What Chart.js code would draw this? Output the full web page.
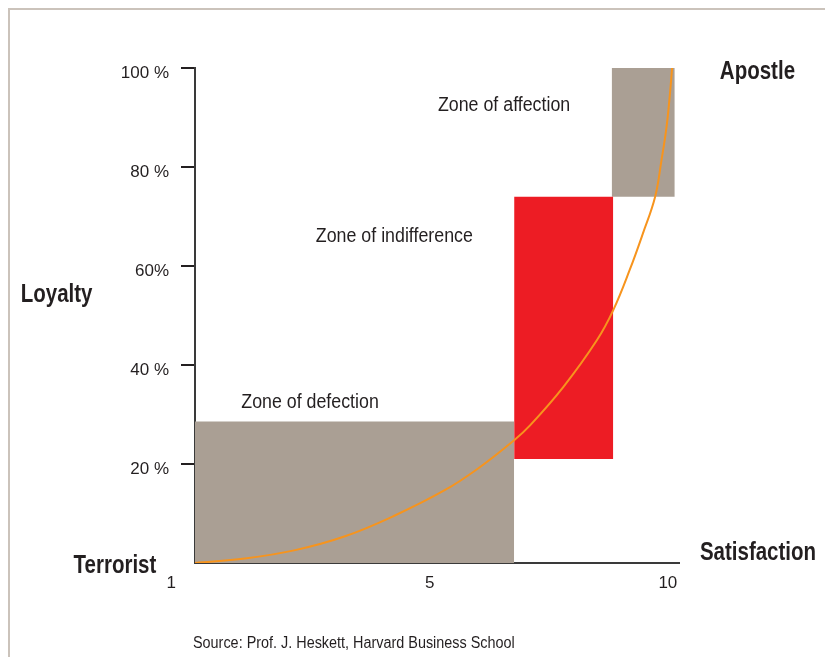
<!DOCTYPE html>
<html>
<head>
<meta charset="utf-8">
<script src="https://cdn.jsdelivr.net/npm/chart.js@4.4.0/dist/chart.umd.min.js"></script>
<style>
  html, body { margin: 0; padding: 0; background: #fff; }
  #wrap { position: relative; width: 825px; height: 657px; overflow: hidden; }
  #frame { position: absolute; left: 8px; top: 8px; width: 830px; height: 660px;
           border-top: 2px solid #cbc3bb; border-left: 2px solid #cbc3bb; pointer-events: none; }
  canvas { position: absolute; left: 0; top: 0; }
</style>
</head>
<body>
<div id="wrap">
  <canvas id="loyaltyChart" width="825" height="657"></canvas>
  <div id="frame"></div>
</div>
<script>
// satisfaction (x) vs loyalty % (y)
const curveX = [1, 1.94, 2.89, 3.83, 4.77, 5.71, 6.34, 7.02, 7.32, 7.95, 8.58, 8.89, 9.20, 9.45, 9.68, 9.80, 9.895, 9.96, 10];
const curveY = [0, 0.9, 2.6, 5.4, 9.6, 14.7, 19.1, 24.8, 27.8, 35.6, 45.0, 51.1, 59.2, 66.6, 74, 81.4, 88.1, 94.9, 100];

const zoneNames = ['Zone of defection', 'Zone of indifference', 'Zone of affection'];
const zoneFrom = [1, 7.02, 8.86];
const zoneTo = [7.02, 8.89, 10.05];
const zoneLow = [0, 21, 74];
const zoneHigh = [28.6, 74, 100];

const yTickValues = [0, 20, 40, 60, 80, 100];
const yTickLabels = ['', '20 %', '40 %', '60%', '80 %', '100 %'];
const xTickLabels = ['1', '5', '10'];
const xTickValues = [0.55, 5.43, 9.92];

const axisWords = ['Apostle', 'Loyalty', 'Terrorist', 'Satisfaction'];
const sourceNote = 'Source: Prof. J. Heskett, Harvard Business School';

const ink = '#231f20';
const zoneColors = ['#aa9f94', '#ed1c24', '#aa9f94'];
const sans = '"Liberation Sans", Arial, sans-serif';

// where the loose words sit, in chart values
const zoneLabelAt = [[3.17, 32.5], [4.76, 65.9], [6.83, 92.5]];
const axisWordAt = [[11.61, 99.2], [-1.61, 54.1], [-0.51, -0.6], [11.62, 2.0]];

// squeeze text sideways, the original uses a condensed face
function squeezed(ctx, text, x, y, sx) {
  ctx.save();
  ctx.translate(x, y);
  ctx.scale(sx, 1);
  ctx.fillText(text, 0, 0);
  ctx.restore();
}

const textPlugin = {
  id: 'textPlugin',
  afterDraw(chart) {
    const ctx = chart.ctx;
    const xs = chart.scales.x, ys = chart.scales.y;
    ctx.save();
    ctx.fillStyle = ink;
    ctx.textAlign = 'center';
    ctx.textBaseline = 'middle';
    ctx.font = '20px ' + sans;
    zoneNames.forEach((t, i) => {
      squeezed(ctx, t, xs.getPixelForValue(zoneLabelAt[i][0]), ys.getPixelForValue(zoneLabelAt[i][1]), 0.89);
    });
    ctx.font = 'bold 25px ' + sans;
    axisWords.forEach((t, i) => {
      squeezed(ctx, t, xs.getPixelForValue(axisWordAt[i][0]), ys.getPixelForValue(axisWordAt[i][1]), 0.82);
    });
    ctx.font = '16px ' + sans;
    ctx.textAlign = 'left';
    squeezed(ctx, sourceNote, 193, 644, 0.9);
    ctx.restore();
  }
};

const datasets = [{
  label: 'Loyalty',
  data: curveX.map((x, i) => ({x: x, y: curveY[i]})),
  showLine: true,
  borderColor: '#f7941d',
  borderWidth: 2,
  pointRadius: 0,
  tension: 0.4,
  fill: false,
  order: 0
}];

zoneNames.forEach((name, i) => {
  datasets.push({
    label: name,
    data: [{x: zoneFrom[i], y: zoneHigh[i]}, {x: zoneTo[i], y: zoneHigh[i]}],
    showLine: true,
    borderColor: 'rgba(0,0,0,0)',
    backgroundColor: zoneColors[i],
    pointRadius: 0,
    fill: {value: zoneLow[i]},
    order: 1
  });
});

new Chart(document.getElementById('loyaltyChart').getContext('2d'), {
  type: 'scatter',
  data: { datasets: datasets },
  plugins: [textPlugin],
  options: {
    responsive: false,
    animation: false,
    layout: { padding: { left: 0, top: 68, right: 146, bottom: 0 } },
    plugins: {
      legend: { display: false },
      tooltip: { enabled: false }
    },
    scales: {
      x: {
        type: 'linear',
        min: 1,
        max: 10.13,
        z: 1,
        afterFit: s => { s.height = 94; },
        afterBuildTicks: s => { s.ticks = xTickValues.map(v => ({value: v})); },
        grid: { display: false, drawTicks: false },
        border: { display: true, color: '#3a3a3a', width: 2 },
        ticks: {
          autoSkip: false,
          maxRotation: 0,
          padding: 10,
          color: ink,
          font: { family: sans, size: 17 },
          callback: (v, i) => xTickLabels[i]
        }
      },
      y: {
        min: 0,
        max: 100,
        z: 1,
        afterFit: s => { s.width = 195; },
        afterBuildTicks: s => { s.ticks = yTickValues.map(v => ({value: v})); },
        grid: {
          drawOnChartArea: false,
          tickLength: 14,
          lineWidth: 2,
          tickColor: c => (c.tick && c.tick.value === 0) ? 'rgba(0,0,0,0)' : ink
        },
        border: { display: true, color: '#3a3a3a', width: 2 },
        ticks: {
          padding: 12,
          labelOffset: 5,
          color: ink,
          font: { family: sans, size: 17 },
          callback: (v, i) => yTickLabels[i]
        }
      }
    }
  }
});
</script>
</body>
</html>
